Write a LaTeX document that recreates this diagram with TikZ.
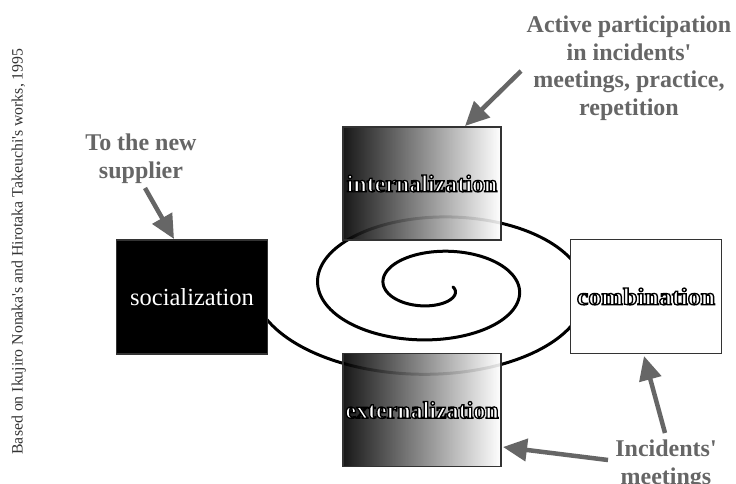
\documentclass[tikz,border=0pt]{standalone}
\usepackage{fontspec}
\setmainfont{Liberation Serif}
\usetikzlibrary{arrows.meta}
\definecolor{annot}{HTML}{666666}
\definecolor{boxline}{HTML}{333333}
\newcommand{\outlinetext}[1]{\textcolor{white}{\special{pdf:literal direct q 0 0 0 RG 2 Tr 1.3 w}#1\special{pdf:literal direct Q}}}
\newcommand{\q}{\textquotesingle}
\begin{document}
\begin{tikzpicture}[x=1pt,y=-1pt,
  gradbox/.style={draw=boxline, line width=1.2pt, minimum width=158pt, minimum height=113pt,
    inner sep=0pt, left color=black, right color=white, fill opacity=0.9, text opacity=1},
  plainbox/.style={draw=boxline, line width=1.2pt, minimum width=151pt, minimum height=114pt, inner sep=0pt},
  boxfont/.style={font=\bfseries\fontsize{24}{28}\selectfont},
  annottext/.style={font=\bfseries\fontsize{24}{27.5}\selectfont, text=annot, align=center, inner sep=0pt, anchor=north},
  annotarrow/.style={draw=annot, line width=4.5pt, -{Triangle[length=24pt,width=22pt]}},
  spiralline/.style={line width=3pt, line cap=round, black}]
\useasboundingbox (0,0) rectangle (736,483);
\fill[white] (0,0) rectangle (736,483);

% spiral
\draw[spiralline, domain=0:2.5, samples=500, variable=\t, smooth]
  plot ({435+(18+66*\t)*cos(360*\t)}, {287+(9.5+34.5*\t)*sin(360*\t)});

% boxes
\node[gradbox, boxfont] (int) at (422,183.5) {\outlinetext{internalization}};
\node[gradbox, boxfont] (ext) at (422,410) {\outlinetext{externalization}};
\node[plainbox, fill=black] (soc) at (192,297) {\textcolor{white}{\fontsize{24.5}{28}\selectfont socialization}};
\node[plainbox, fill=white, boxfont] (comb) at (646,296.5) {\scalebox{1.08}[1]{\outlinetext{combination}}};

% side note
\node[rotate=90, anchor=base, font=\fontsize{15.8}{18}\selectfont, text=black!80, inner sep=0pt] (src) at (22.5,251.5)
  {Based on Ikujiro Nonaka\q s and Hirotaka Takeuchi\q s works, 1995};

% annotations
\node[annottext] (act) at (629,16) {Active participation\\in incidents\q\\meetings, practice,\\repetition};
\node[annottext] (sup) at (141,134) {To the new\\supplier};
\node[annottext] (inc) at (666,440) {Incidents\q\\meetings};

\coordinate (a1s) at (521,71);
\coordinate (a1e) at (465,126);
\coordinate (a2s) at (145,188);
\coordinate (a2e) at (174,239);
\coordinate (a3s) at (665,433);
\coordinate (a3e) at (644,356);
\coordinate (a4s) at (608,460);
\coordinate (a4e) at (503,447);
\draw[annotarrow] (a1s) -- (a1e);
\draw[annotarrow] (a2s) -- (a2e);
\draw[annotarrow] (a3s) -- (a3e);
\draw[annotarrow] (a4s) -- (a4e);
\end{tikzpicture}
\end{document}
